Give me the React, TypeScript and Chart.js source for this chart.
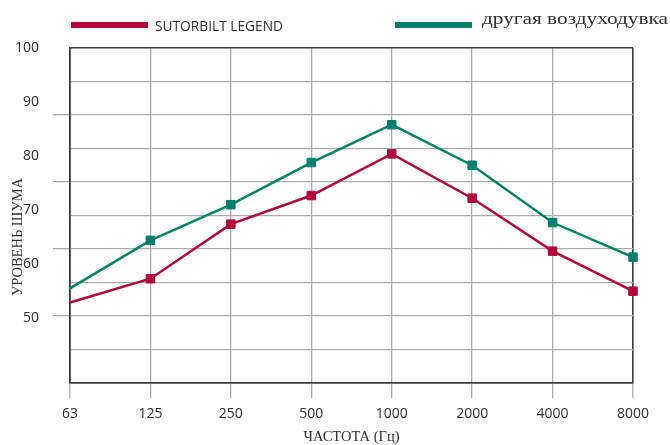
import React, { useEffect, useRef } from 'react';
import { Chart, registerables } from 'chart.js';

Chart.register(...registerables);

const categories = ['63', '125', '250', '500', '1000', '2000', '4000', '8000'];
const sutorbiltValues = [52.9, 57.3, 67.4, 72.7, 80.4, 72.2, 62.4, 55.0];
const otherValues = [55.5, 64.4, 71.0, 78.8, 85.8, 78.3, 67.7, 61.3];
const yTickValues = [50, 60, 70, 80, 90, 100];
const seriesNames = ['SUTORBILT LEGEND', 'другая воздуходувка'];
const xTitle = 'ЧАСТОТА (Гц)';
const yTitle = 'УРОВЕНЬ ШУМА';

const RED = '#b0073b';
const GREEN = '#00806a';
const DARK = '#3c3c3c';
const GRID = '#ababab';
const TEXT = '#2e2e2e';

const legendPlugin = {
  id: 'customLegend',
  afterDraw(chart: any) {
    const ctx = chart.ctx;
    const items = [
      { x: 71, textX: 155, font: '500 15px "Open Sans"', baseline: 31, width: 128 },
      { x: 395, textX: 482, font: '16.5px "Liberation Serif"', baseline: 24, width: 186 },
    ];
    ctx.save();
    chart.data.datasets.forEach((ds: any, i: number) => {
      const it = items[i];
      ctx.fillStyle = ds.borderColor;
      ctx.fillRect(it.x, 22, 77, 6);
      ctx.fillStyle = TEXT;
      ctx.font = it.font;
      ctx.textAlign = 'left';
      ctx.textBaseline = 'alphabetic';
      const w = ctx.measureText(ds.label).width;
      const sx = it.width / w;
      ctx.save();
      ctx.translate(it.textX, it.baseline);
      ctx.scale(sx, 1);
      ctx.fillText(ds.label, 0, 0);
      ctx.restore();
    });
    ctx.restore();
  },
};

const yTitlePlugin = {
  id: 'yTitle',
  afterDraw(chart: any) {
    const ctx = chart.ctx;
    ctx.save();
    ctx.translate(18, 237);
    ctx.rotate(-Math.PI / 2);
    ctx.font = '14.5px "Liberation Serif"';
    ctx.fillStyle = TEXT;
    ctx.textAlign = 'center';
    ctx.textBaseline = 'middle';
    ctx.fillText(yTitle, 0, 0);
    ctx.restore();
  },
};

export default function App() {
  const ref = useRef<HTMLCanvasElement | null>(null);

  useEffect(() => {
    if (!ref.current) return;
    const chart = new Chart(ref.current, {
      type: 'line',
      data: {
        labels: categories,
        datasets: [
          {
            label: seriesNames[0],
            data: sutorbiltValues,
            borderColor: RED,
            backgroundColor: RED,
            borderWidth: 2.5,
            pointStyle: 'rect',
            pointRadius: [0, 6, 6, 6, 6, 6, 6, 6],
            pointBorderWidth: 1,
            pointBorderColor: RED,
            pointBackgroundColor: RED,
            tension: 0,
            yAxisID: 'yv',
          },
          {
            label: seriesNames[1],
            data: otherValues,
            borderColor: GREEN,
            backgroundColor: GREEN,
            borderWidth: 2.5,
            pointStyle: 'rect',
            pointRadius: [0, 6, 6, 6, 6, 6, 6, 6],
            pointBorderWidth: 1,
            pointBorderColor: GREEN,
            pointBackgroundColor: GREEN,
            tension: 0,
            yAxisID: 'yv',
          },
        ],
      },
      options: {
        animation: false,
        responsive: false,
        devicePixelRatio: 1,
        layout: { padding: { top: 48, right: 37, bottom: 0, left: 0 } },
        plugins: {
          legend: { display: false },
          tooltip: { enabled: false },
        },
        elements: { line: { borderJoinStyle: 'miter' } },
        scales: {
          x: {
            type: 'category',
            offset: false,
            grid: {
              color: (c: any) => (c.index === categories.length - 1 || c.index === 0 ? DARK : GRID),
              lineWidth: (c: any) => (c.index === categories.length - 1 || c.index === 0 ? 1.6 : 1.3),
              tickColor: GRID,
              tickWidth: 1.3,
              tickLength: 15,
            },
            border: { display: true, color: DARK, width: 1.6 },
            ticks: {
              color: TEXT,
              font: { family: '"Open Sans"', size: 14, weight: '500' },
              padding: 8,
              maxRotation: 0,
              autoSkip: false,
            },
            title: {
              display: true,
              text: xTitle,
              color: TEXT,
              font: { family: '"Liberation Serif"', size: 14.5, lineHeight: 1.1 },
              padding: { top: 0, bottom: 0 },
            },
            afterFit: (s: any) => {
              s.height = 62;
            },
          },
          yg: {
            type: 'linear',
            position: 'left',
            weight: 0,
            min: 0,
            max: 10,
            ticks: { display: false, stepSize: 1 },
            grid: {
              color: (c: any) => (c.tick && (c.tick.value === 10 || c.tick.value === 0) ? DARK : GRID),
              lineWidth: (c: any) => (c.tick && (c.tick.value === 10 || c.tick.value === 0) ? 1.6 : 1.3),
              tickColor: (c: any) =>
                c.tick && c.tick.value % 2 === 0 && c.tick.value > 0 && c.tick.value < 10 ? GRID : 'rgba(0,0,0,0)',
              tickWidth: 1.3,
              tickLength: 17,
            },
            border: { display: true, color: DARK, width: 1.6 },
            afterFit: (s: any) => {
              s.width = 17;
            },
          },
          yv: {
            type: 'linear',
            position: 'left',
            weight: 10,
            min: 38,
            max: 100,
            grid: { display: false },
            border: { display: false },
            afterBuildTicks: (s: any) => {
              s.ticks = yTickValues.map((v) => ({ value: v }));
            },
            ticks: {
              color: TEXT,
              font: { family: '"Open Sans"', size: 14, weight: '500' },
              padding: 6,
            },
            afterFit: (s: any) => {
              s.width = 53;
            },
          },
        },
      },
      plugins: [legendPlugin, yTitlePlugin],
    } as any);
    return () => chart.destroy();
  }, []);

  return (
    <div style={{ position: 'fixed', left: 0, top: 0, width: 670, height: 445, background: '#fff' }}>
      <canvas ref={ref} width={670} height={445} style={{ width: 670, height: 445, display: 'block' }} />
    </div>
  );
}
